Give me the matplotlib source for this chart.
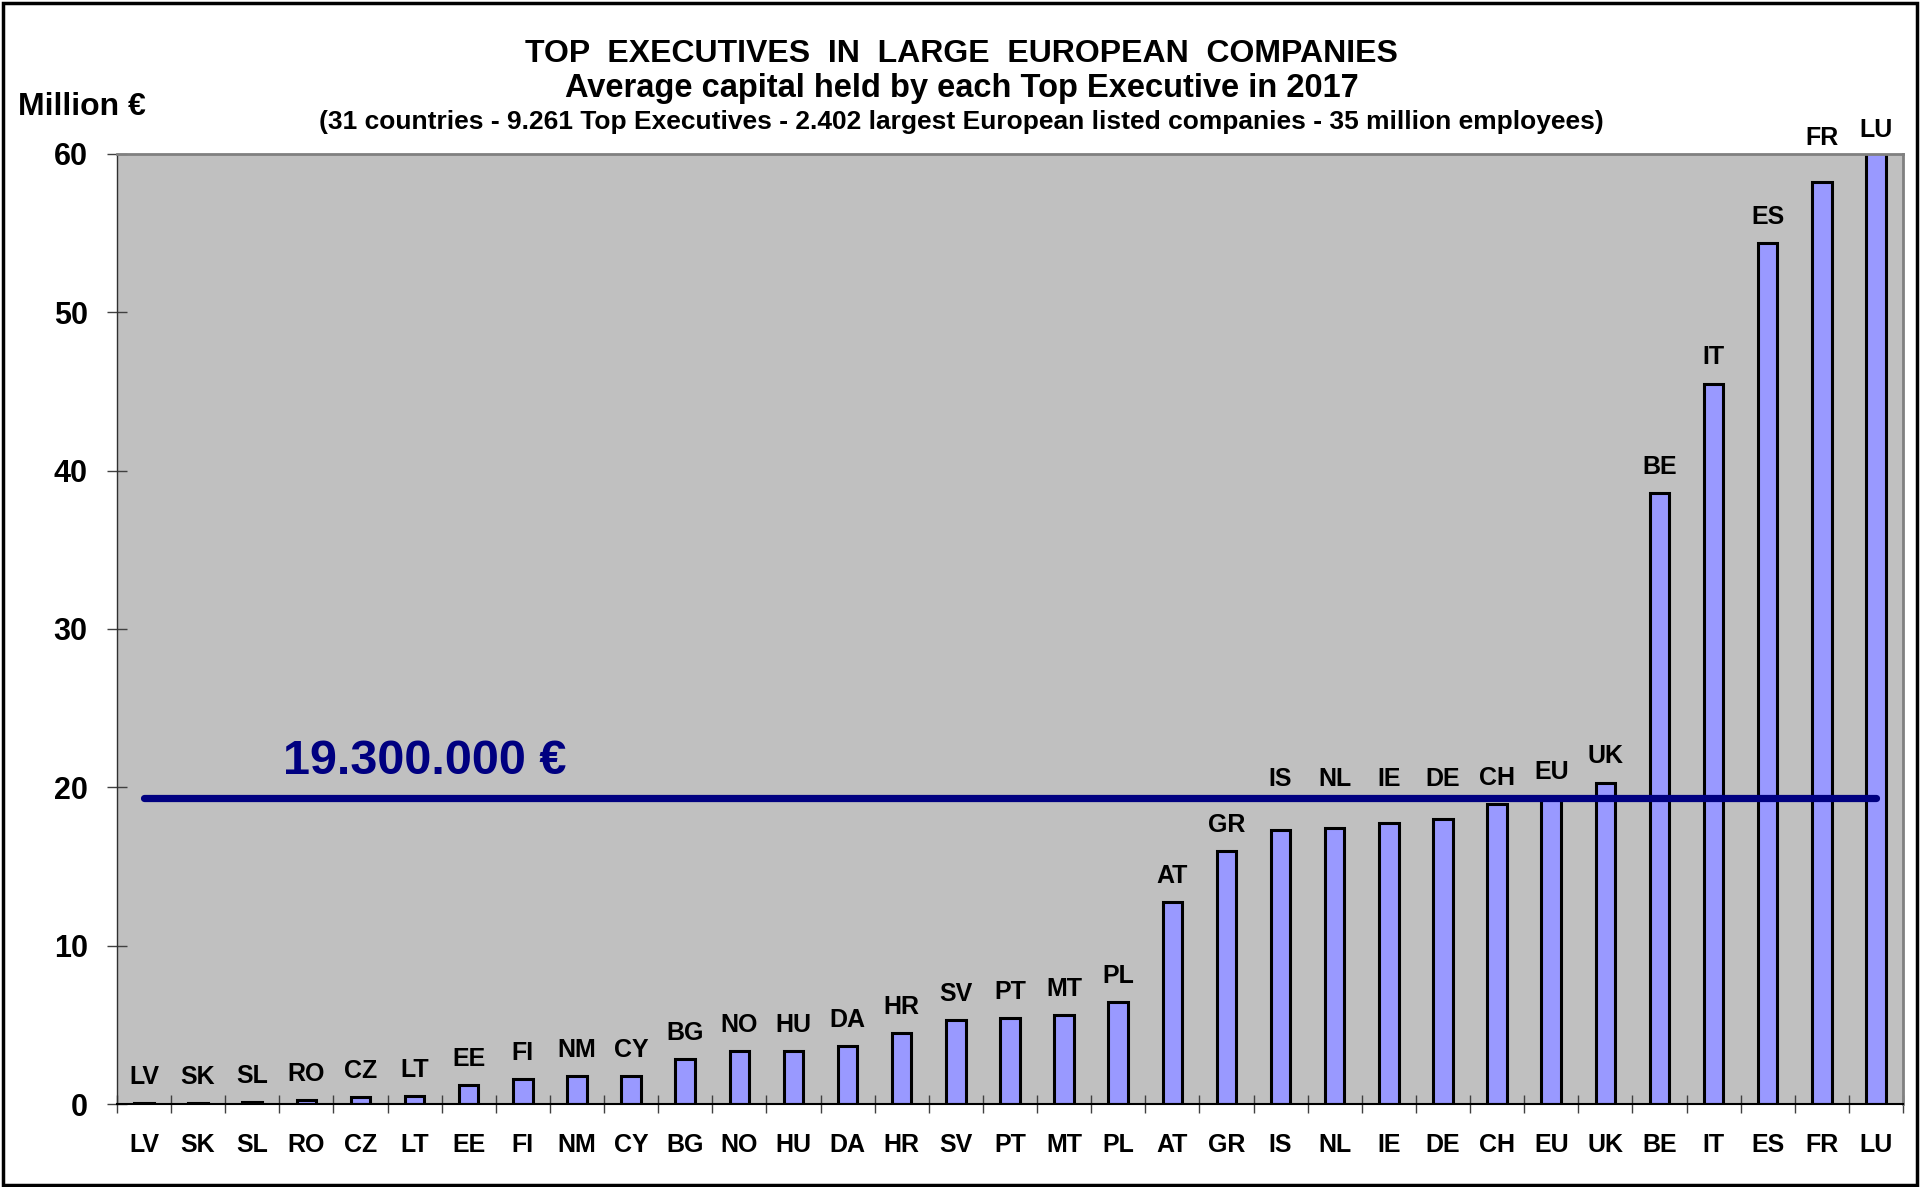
import matplotlib
matplotlib.use("Agg")
import matplotlib.pyplot as plt
from matplotlib.patches import Rectangle

plt.rcParams["font.family"] = ["Liberation Sans", "DejaVu Sans"]
plt.rcParams["font.weight"] = "bold"

countries = ["LV", "SK", "SL", "RO", "CZ", "LT", "EE", "FI", "NM", "CY", "BG",
             "NO", "HU", "DA", "HR", "SV", "PT", "MT", "PL", "AT", "GR", "IS",
             "NL", "IE", "DE", "CH", "EU", "UK", "BE", "IT", "ES", "FR", "LU"]
# million euro per top executive
capital = [0.07, 0.07, 0.15, 0.23, 0.42, 0.5, 1.18, 1.58, 1.79, 1.79, 2.86,
           3.36, 3.37, 3.66, 4.5, 5.33, 5.43, 5.62, 6.44, 12.78, 15.98, 17.33,
           17.46, 17.77, 17.98, 18.93, 19.3, 20.3, 38.6, 45.5, 54.4, 58.26, 62.0]
eu_average = 19.3
eu_label = "19.300.000 €"

title_lines = ["TOP  EXECUTIVES  IN  LARGE  EUROPEAN  COMPANIES",
               "Average capital held by each Top Executive in 2017",
               "(31 countries - 9.261 Top Executives - 2.402 largest European "
               "listed companies - 35 million employees)"]

fig = plt.figure(figsize=(19.23, 11.87), dpi=100)
ax = fig.add_axes([0.0608, 0.0699, 0.9288, 0.8004])
ax.set_facecolor("#C0C0C0")

x = list(range(len(countries)))
ax.bar(x, capital, width=0.36, color="#9999FF", edgecolor="black",
       linewidth=2.2, zorder=2)

ax.set_xlim(-0.5, len(countries) - 0.5)
ax.set_ylim(0, 60)

# labels above the bars, kept clear of the average line and the top edge
for i, v in enumerate(capital):
    ly = v + 1.65
    if abs(ly - eu_average) < 1.5:
        ly = max(ly, eu_average + 1.2)
    ly = min(ly, 61.5)
    if ly > 59.2:
        ly = max(ly, 61.0)
    ax.text(i, ly, countries[i], ha="center", va="center", fontsize=18,
            fontweight="bold", clip_on=False, zorder=4)

ax.plot([0, len(countries) - 1], [eu_average, eu_average], color="#000080",
        linewidth=5.2, solid_capstyle="round", zorder=3)
ax.text(2.57, eu_average + 1.55, eu_label, color="#000080", fontsize=35,
        fontweight="bold", ha="left", va="baseline", zorder=4)

ax.set_yticks(range(0, 61, 10))
ax.set_yticklabels([str(t) for t in range(0, 61, 10)], fontsize=22,
                   fontweight="bold")
ax.set_xticks([i + 0.5 for i in range(-1, len(countries))])
ax.set_xticklabels([])
ax.tick_params(axis="y", direction="inout", length=14, width=1,
               color="#404040", pad=14)
ax.tick_params(axis="x", direction="inout", length=13, width=1,
               color="#404040")
for i, c in enumerate(countries):
    ax.text(i, -2.56, c, ha="center", va="center", fontsize=18,
            fontweight="bold", clip_on=False)

for side in ["top", "right"]:
    ax.spines[side].set_color("#808080")
    ax.spines[side].set_linewidth(2)
ax.spines["left"].set_color("#303030")
ax.spines["left"].set_linewidth(1)
ax.spines["bottom"].set_color("black")
ax.spines["bottom"].set_linewidth(1.5)

fig.text(0.5, 1 - 54 / 1187, title_lines[0], ha="center", va="center",
         fontsize=23, fontweight="bold")
fig.text(0.5, 1 - 89 / 1187, title_lines[1], ha="center", va="center",
         fontsize=23.5, fontweight="bold")
fig.text(0.5, 1 - 122 / 1187, title_lines[2], ha="center", va="center",
         fontsize=19, fontweight="bold")
fig.text(18 / 1923, 1 - 107 / 1187, "Million €", ha="left", va="center",
         fontsize=23, fontweight="bold")

fig.patches.append(Rectangle((0.0015, 0.0015), 0.9955, 0.996,
                             transform=fig.transFigure, fill=False,
                             edgecolor="black", linewidth=2.5))

fig.savefig("out.png", dpi=100)
